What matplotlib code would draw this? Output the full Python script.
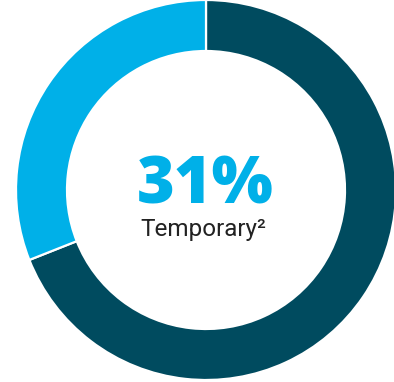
import matplotlib.pyplot as plt

# share of workforce by contract type
labels = ['Permanent', 'Temporary']
shares = [69, 31]
colors = ['#004b5f', '#00b0e8']

fig = plt.figure(figsize=(3.94, 3.82), dpi=100)
ax = fig.add_axes([0, 0, 1, 1])

ax.pie(shares, colors=colors, startangle=90, counterclock=False,
       radius=190, center=(0, 0), frame=True,
       wedgeprops=dict(width=51, edgecolor='white', linewidth=1.6))

ax.set_xlim(-206, 188)
ax.set_ylim(-192, 190)
ax.set_aspect('equal')
ax.axis('off')

ax.text(-1, -14, '{}%'.format(shares[1]), ha='center', va='baseline',
        fontsize=46.5, fontweight='heavy', color=colors[1], family='Open Sans')
# label with footnote marker
ax.text(-3, -46, labels[1] + '\u00b2', ha='center', va='baseline',
        fontsize=17.5, color='#222222', family='Roboto')

fig.savefig('out.png', dpi=100)
